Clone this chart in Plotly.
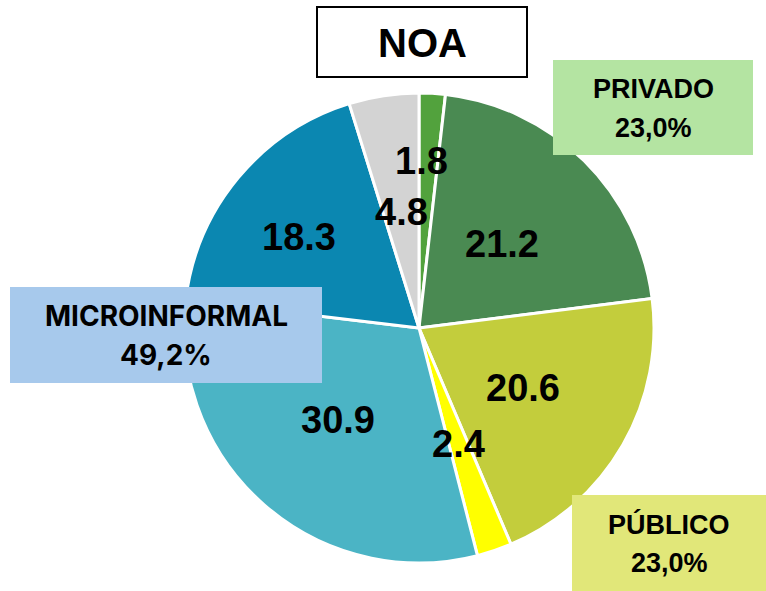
import math
import plotly.graph_objects as go

# Data
segments = ["Privado A", "Privado B", "Público A", "Público B", "Micro A", "Micro B", "Otros"]
values = [1.8, 21.2, 20.6, 2.4, 30.9, 18.3, 4.8]
group_names = ["PRIVADO", "MICROINFORMAL", "PÚBLICO"]
group_shares = ["23,0%", "49,2%", "23,0%"]
title_text = "NOA"

# Styles
colors = ["#52a23d", "#4a8a52", "#c3cd3c", "#ffff00", "#4bb4c5", "#0b87b1", "#d3d3d3"]
label_radius = [0.71, 0.50, 0.51, 0.52, 0.52, 0.64, 0.50]
label_angle_shift = [-2.5, 0, 0, 0, 0, -2.5, 0]

W, H = 766, 591
cx, cy, R = 419, 328, 235

fig = go.Figure()
fig.add_trace(go.Pie(
    labels=segments, values=values, sort=False, direction="clockwise", rotation=0,
    marker=dict(colors=colors, line=dict(color="white", width=3)),
    textinfo="none", hoverinfo="label+value", showlegend=False,
    domain=dict(x=[(cx - R) / W, (cx + R) / W], y=[(H - cy - R) / H, (H - cy + R) / H]),
))

def ann(px, py, text, size, fam):
    return dict(x=px / W, y=1 - py / H, xref="paper", yref="paper",
                xanchor="center", yanchor="middle", text=text, showarrow=False,
                font=dict(size=size, color="black", family=fam))

# Slice value labels, positioned from the data's cumulative angles
total = sum(values)
cum = 0
annotations = []
for v, rf, sh in zip(values, label_radius, label_angle_shift):
    mid = (cum + v / 2) / total * 2 * math.pi + math.radians(sh)
    cum += v
    px = cx + rf * R * math.sin(mid)
    py = cy - rf * R * math.cos(mid)
    annotations.append(ann(px, py, f"<b>{v:.1f}</b>", 38, "Liberation Sans, Arial"))

shapes = []
def box(x0, y0, x1, y1, fill, line_color=None, lw=0):
    shapes.append(dict(type="rect", xref="paper", yref="paper",
                       x0=x0 / W, x1=x1 / W, y0=1 - y1 / H, y1=1 - y0 / H,
                       fillcolor=fill, layer="above",
                       line=dict(color=line_color or fill, width=lw)))

# Title box
box(317, 7, 527, 77, "white", "black", 2)
annotations.append(ann(422, 43, f"<b>{title_text}</b>", 40, "Liberation Sans, Arial"))

group_boxes = [(553, 60, 753, 155, "#b4e4a2"), (10, 287, 322, 383, "#a7c9ec"), (572, 495, 766, 591, "#e1e779")]
for (x0, y0, x1, y1, fill), name, share in zip(group_boxes, group_names, group_shares):
    box(x0, y0, x1, y1, fill)
    micro = name == "MICROINFORMAL"
    fam = "Inter, Liberation Sans" if micro else "Liberation Sans, Arial"
    size = 28 if micro else 27
    xc = (x0 + x1) / 2
    annotations.append(ann(xc, y0 + 29, f"<b>{name}</b>", size, fam))
    annotations.append(ann(xc, y0 + 68, f"<b>{share}</b>", size, fam))

fig.update_layout(width=W, height=H, margin=dict(l=0, r=0, t=0, b=0),
                  paper_bgcolor="white", plot_bgcolor="white",
                  shapes=shapes, annotations=annotations)
fig.write_html("out.html", config={"displayModeBar": False},
               post_script="document.body.style.margin='0';")
